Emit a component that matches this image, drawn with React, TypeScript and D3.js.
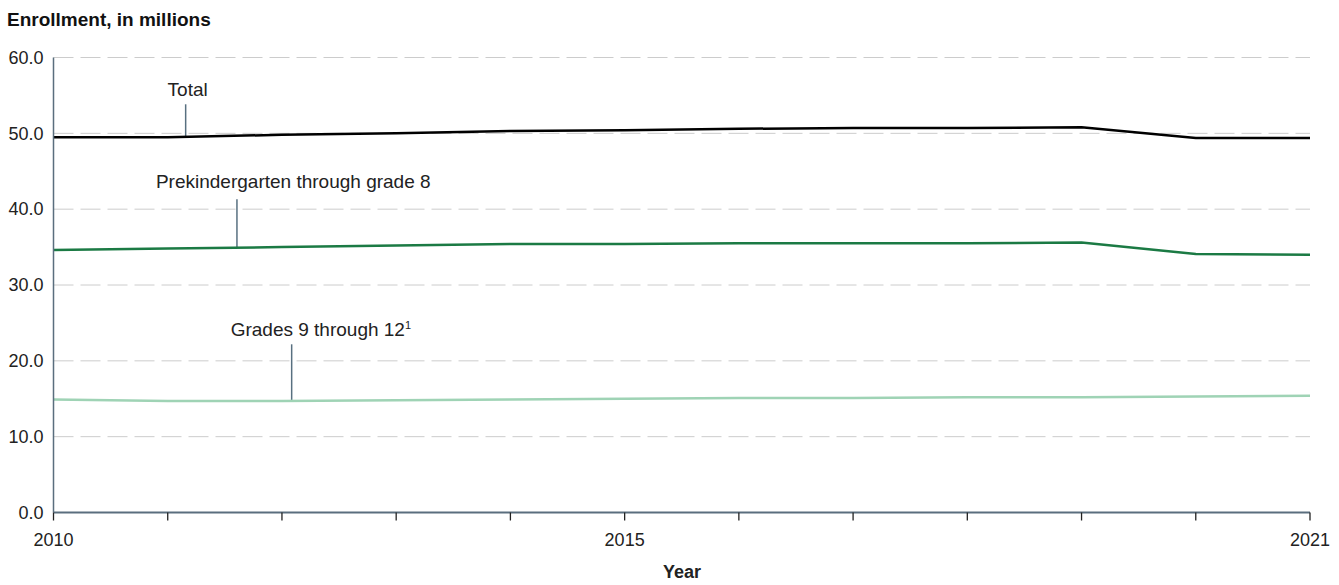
import React from "react";
import * as d3 from "d3";

const years = [2010, 2011, 2012, 2013, 2014, 2015, 2016, 2017, 2018, 2019, 2020, 2021];
const totalValues = [49.5, 49.5, 49.8, 50.0, 50.3, 50.4, 50.6, 50.7, 50.7, 50.8, 49.4, 49.4];
const prekValues = [34.6, 34.8, 35.0, 35.2, 35.4, 35.4, 35.5, 35.5, 35.5, 35.6, 34.1, 34.0];
const gradesValues = [14.9, 14.7, 14.7, 14.8, 14.9, 15.0, 15.1, 15.1, 15.2, 15.2, 15.3, 15.4];
const yTicks = [0, 10, 20, 30, 40, 50, 60];
const xLabelYears = [2010, 2015, 2021];

const series = [
  { name: "Total", values: totalValues, color: "#000000", labelYear: 2011.157, labelTop: 53.83, anchor: "middle", dx: 2, gap: 8, sup: "" },
  { name: "Prekindergarten through grade 8", values: prekValues, color: "#1b7a44", labelYear: 2011.606, labelTop: 41.3, anchor: "start", dx: -81, gap: 11, sup: "" },
  { name: "Grades 9 through 12", values: gradesValues, color: "#9fd3b5", labelYear: 2012.085, labelTop: 22.18, anchor: "start", dx: -61, gap: 8, sup: "1" },
];

export default function App() {
  const width = 1339;
  const height = 585;
  const x = d3.scaleLinear().domain([2010, 2021]).range([53.5, 1310]);
  const y = d3.scaleLinear().domain([0, 60]).range([512.5, 57.5]);
  const line = d3
    .line<number>()
    .x((_, i) => x(years[i]))
    .y((d) => y(d));
  const font = "'Liberation Sans', Arial, sans-serif";

  return (
    <svg width={width} height={height} style={{ position: "absolute", left: 0, top: 0, fontFamily: font }}>
      <text x={7} y={26} fontSize={19} fontWeight="bold" fill="#111">
        Enrollment, in millions
      </text>
      {yTicks.map((t) => (
        <g key={t}>
          {t > 0 && (
            <line x1={x(2010)} x2={x(2021)} y1={y(t)} y2={y(t)} stroke="#cccccc" strokeWidth={1} strokeDasharray="20,7" />
          )}
          <text x={43.5} y={y(t)} dy="0.35em" textAnchor="end" fontSize={18} fill="#222">
            {t.toFixed(1)}
          </text>
        </g>
      ))}
      {series.map((s) => {
        const idx = Math.floor(s.labelYear - 2010);
        const frac = s.labelYear - 2010 - idx;
        const v = s.values[idx] * (1 - frac) + s.values[idx + 1] * frac;
        const lx = x(s.labelYear);
        return (
          <g key={s.name}>
            <line x1={lx} x2={lx} y1={y(s.labelTop)} y2={y(v)} stroke="#587080" strokeWidth={1.5} />
            <text x={lx + s.dx} y={y(s.labelTop) - s.gap} textAnchor={s.anchor} fontSize={19} fill="#222">
              {s.name}
              {s.sup && (
                <tspan fontSize={11} dy={-7}>
                  {s.sup}
                </tspan>
              )}
            </text>
          </g>
        );
      })}
      {series.map((s) => (
        <path key={s.name + "-line"} d={line(s.values) || ""} fill="none" stroke={s.color} strokeWidth={2.5} />
      ))}
      <line x1={x(2010)} x2={x(2010)} y1={y(60)} y2={y(0)} stroke="#5a6e7e" strokeWidth={1.5} />
      <line x1={x(2010)} x2={x(2021)} y1={y(0)} y2={y(0)} stroke="#5a6e7e" strokeWidth={2} />
      {years.map((yr) => (
        <line key={yr} x1={x(yr)} x2={x(yr)} y1={y(0)} y2={y(0) + 8} stroke="#222" strokeWidth={1.3} />
      ))}
      {xLabelYears.map((yr) => (
        <text key={yr} x={x(yr)} y={546} textAnchor="middle" fontSize={18} fill="#222">
          {yr}
        </text>
      ))}
      <text x={682} y={578} textAnchor="middle" fontSize={18} fontWeight="bold" fill="#222">
        Year
      </text>
    </svg>
  );
}
